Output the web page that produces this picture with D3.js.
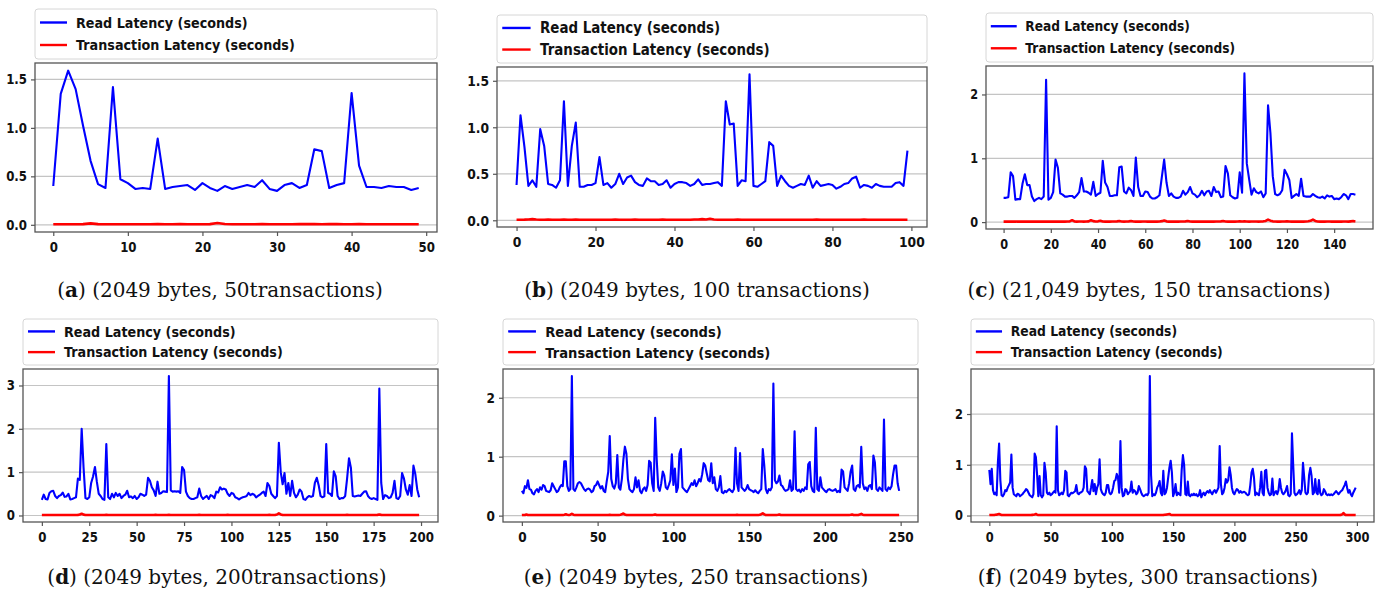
<!DOCTYPE html>
<html>
<head>
<meta charset="utf-8">
<script src="https://cdn.jsdelivr.net/npm/d3@7"></script>
<style>
  body { margin: 0; background: #fff; }
  svg { display: block; }
</style>
</head>
<body>
<div class="figure"></div>
<script>
// ---- data ----
var legendLabels = ["Read Latency (seconds)", "Transaction Latency (seconds)"];
var captionLetters = ["a", "b", "c", "d", "e", "f"];
var captionTexts = [" (2049 bytes, 50transactions)", " (2049 bytes, 100 transactions)", " (21,049 bytes, 150 transactions)",
                    " (2049 bytes, 200transactions)", " (2049 bytes, 250 transactions)", " (2049 bytes, 300 transactions)"];

var xTicksA = [0, 10, 20, 30, 40, 50];
var xTicksB = [0, 20, 40, 60, 80, 100];
var xTicksC = [0, 20, 40, 60, 80, 100, 120, 140];
var xTicksD = [0, 25, 50, 75, 100, 125, 150, 175, 200];
var xTicksE = [0, 50, 100, 150, 200, 250];
var xTicksF = [0, 50, 100, 150, 200, 250, 300];
var yTicksA = [0, 0.5, 1.0, 1.5];
var yTicksB = [0, 0.5, 1.0, 1.5];
var yTicksC = [0, 1, 2];
var yTicksD = [0, 1, 2, 3];
var yTicksE = [0, 1, 2];
var yTicksF = [0, 1, 2];

var readA = [
  0.40,1.35,1.59,1.40,1.02,0.66,0.42,0.38,1.42,0.47,
  0.43,0.37,0.38,0.37,0.89,0.37,0.39,0.40,0.41,0.36,
  0.43,0.38,0.35,0.40,0.37,0.39,0.41,0.39,0.46,0.37,
  0.35,0.41,0.43,0.38,0.41,0.78,0.76,0.38,0.41,0.43,
  1.36,0.61,0.39,0.39,0.38,0.40,0.39,0.39,0.36,0.38];
var txA = [
  0.005,0.006,0.005,0.006,0.007,0.015,0.007,0.006,0.005,0.006,
  0.006,0.005,0.006,0.005,0.007,0.006,0.006,0.008,0.006,0.005,
  0.006,0.007,0.018,0.008,0.006,0.006,0.005,0.006,0.007,0.006,
  0.005,0.006,0.006,0.007,0.008,0.007,0.006,0.008,0.007,0.006,
  0.006,0.007,0.006,0.006,0.005,0.006,0.006,0.005,0.006,0.006];

var readB = [
  0.38,1.13,0.79,0.37,0.43,0.36,0.98,0.80,0.39,0.38,
  0.35,0.43,1.28,0.37,0.80,1.05,0.36,0.36,0.38,0.38,
  0.40,0.68,0.38,0.40,0.35,0.39,0.50,0.39,0.46,0.48,
  0.41,0.38,0.37,0.45,0.42,0.42,0.38,0.39,0.43,0.35,
  0.39,0.41,0.41,0.40,0.37,0.39,0.44,0.38,0.39,0.39,
  0.40,0.41,0.37,1.28,1.03,1.04,0.37,0.43,0.42,1.57,
  0.37,0.36,0.39,0.42,0.84,0.80,0.37,0.48,0.42,0.37,
  0.35,0.37,0.39,0.38,0.48,0.35,0.42,0.37,0.38,0.39,
  0.38,0.34,0.36,0.39,0.40,0.45,0.47,0.35,0.38,0.37,
  0.35,0.39,0.37,0.36,0.36,0.36,0.40,0.41,0.37,0.75];
var txB = [
  0.006,0.006,0.007,0.009,0.012,0.008,0.006,0.006,0.007,0.006,0.006,0.006,0.007,0.006,0.006,0.007,0.006,0.006,0.006,0.006,
  0.006,0.006,0.006,0.006,0.006,0.007,0.006,0.006,0.006,0.006,0.008,0.006,0.006,0.006,0.006,0.006,0.006,0.007,0.006,0.006,
  0.006,0.006,0.006,0.006,0.006,0.008,0.009,0.012,0.008,0.016,0.009,0.006,0.006,0.006,0.006,0.006,0.007,0.006,0.006,0.006,
  0.006,0.006,0.006,0.006,0.006,0.006,0.006,0.006,0.006,0.006,0.006,0.006,0.006,0.006,0.006,0.006,0.009,0.006,0.006,0.006,
  0.006,0.006,0.006,0.006,0.006,0.006,0.006,0.006,0.007,0.006,0.006,0.006,0.006,0.006,0.006,0.006,0.006,0.006,0.006,0.006];

var readC = [
  0.38,0.38,0.39,0.78,0.72,0.35,0.36,0.36,0.60,0.75,
  0.58,0.58,0.40,0.33,0.36,0.38,0.36,0.40,2.23,0.35,
  0.38,0.47,0.98,0.85,0.45,0.43,0.40,0.40,0.41,0.41,
  0.38,0.42,0.47,0.69,0.48,0.48,0.46,0.43,0.63,0.41,
  0.44,0.46,0.96,0.62,0.55,0.41,0.41,0.42,0.42,0.86,
  0.87,0.48,0.45,0.54,0.50,0.41,1.01,0.55,0.41,0.41,
  0.48,0.47,0.40,0.37,0.37,0.39,0.42,0.70,0.98,0.62,
  0.41,0.45,0.40,0.38,0.38,0.40,0.49,0.43,0.47,0.55,
  0.45,0.43,0.39,0.42,0.49,0.42,0.48,0.49,0.41,0.55,
  0.47,0.48,0.39,0.40,0.88,0.76,0.42,0.39,0.37,0.38,
  0.78,0.46,2.33,0.92,0.67,0.43,0.53,0.47,0.45,0.48,
  0.39,0.45,1.83,1.40,0.72,0.44,0.42,0.44,0.50,0.82,
  0.75,0.66,0.38,0.41,0.44,0.41,0.68,0.41,0.40,0.40,
  0.40,0.44,0.41,0.39,0.38,0.40,0.37,0.42,0.40,0.41,
  0.36,0.37,0.36,0.39,0.44,0.42,0.36,0.44,0.44,0.43];
var txC = [
  0.008,0.008,0.009,0.008,0.008,0.008,0.009,0.008,0.008,0.008,0.009,0.008,0.008,0.008,0.008,0.009,0.008,0.008,0.008,0.008,0.009,0.008,0.008,0.010,0.008,
  0.008,0.008,0.009,0.012,0.030,0.010,0.008,0.009,0.010,0.008,0.009,0.012,0.030,0.015,0.009,0.012,0.022,0.010,0.008,0.009,0.008,0.009,0.010,0.012,0.016,
  0.010,0.008,0.009,0.012,0.016,0.010,0.008,0.009,0.008,0.010,0.009,0.008,0.008,0.008,0.009,0.008,0.010,0.015,0.026,0.012,0.008,0.009,0.008,0.009,0.008,
  0.009,0.010,0.012,0.016,0.010,0.008,0.009,0.008,0.008,0.009,0.008,0.008,0.009,0.008,0.008,0.009,0.010,0.012,0.016,0.010,0.008,0.008,0.009,0.008,0.010,
  0.012,0.010,0.011,0.009,0.008,0.009,0.010,0.009,0.008,0.010,0.012,0.018,0.040,0.022,0.012,0.009,0.008,0.008,0.009,0.010,0.012,0.010,0.008,0.009,0.008,
  0.008,0.009,0.008,0.010,0.014,0.020,0.040,0.018,0.010,0.008,0.009,0.008,0.010,0.009,0.008,0.008,0.009,0.008,0.008,0.009,0.010,0.008,0.012,0.016,0.010];

var readD = [
  0.36,0.48,0.38,0.37,0.52,0.56,0.57,0.45,0.40,0.45,
  0.47,0.53,0.43,0.44,0.50,0.37,0.38,0.40,0.42,0.85,
  0.82,2.00,1.10,0.40,0.38,0.42,0.75,0.90,1.12,0.78,
  0.50,0.45,0.38,0.36,1.65,0.42,0.38,0.50,0.42,0.52,
  0.45,0.50,0.40,0.45,0.48,0.57,0.42,0.44,0.40,0.45,
  0.38,0.42,0.50,0.48,0.45,0.48,0.87,0.80,0.65,0.58,
  0.45,0.78,0.50,0.52,0.56,0.55,0.54,3.22,0.58,0.55,
  0.56,0.55,0.56,0.52,1.12,1.05,0.55,0.45,0.40,0.38,
  0.38,0.40,0.42,0.62,0.45,0.38,0.42,0.45,0.38,0.47,
  0.45,0.40,0.55,0.53,0.65,0.60,0.62,0.60,0.50,0.45,
  0.52,0.50,0.42,0.40,0.37,0.40,0.42,0.43,0.45,0.52,
  0.47,0.50,0.48,0.42,0.45,0.48,0.52,0.55,0.45,0.75,
  0.68,0.50,0.45,0.40,0.45,1.68,1.00,0.72,0.98,0.50,
  0.75,0.45,0.80,0.52,0.42,0.48,0.60,0.55,0.38,0.36,
  0.42,0.45,0.43,0.45,0.75,0.87,0.70,0.45,0.42,0.44,
  1.65,0.52,0.50,0.45,1.02,0.90,0.45,0.38,0.40,0.40,
  0.45,0.85,1.32,1.10,0.45,0.44,0.45,0.46,0.45,0.50,
  0.55,0.56,0.45,0.40,0.38,0.40,0.38,0.36,2.93,0.75,
  0.38,0.47,0.45,0.40,0.42,0.52,0.80,0.40,0.38,0.45,
  0.98,0.85,0.60,0.48,0.70,0.45,1.15,0.95,0.60,0.42];
var txD = [
  0.010,0.010,0.011,0.010,0.010,0.012,0.010,0.010,0.011,0.010,0.010,0.012,0.010,0.010,0.011,0.010,0.010,0.012,0.011,0.014,0.022,0.040,0.020,0.012,0.010,
  0.010,0.011,0.012,0.010,0.010,0.011,0.010,0.010,0.012,0.014,0.011,0.010,0.010,0.011,0.010,0.012,0.010,0.010,0.011,0.010,0.012,0.010,0.010,0.011,0.010,
  0.010,0.011,0.010,0.012,0.010,0.010,0.011,0.012,0.010,0.010,0.013,0.011,0.010,0.010,0.011,0.010,0.012,0.014,0.011,0.010,0.010,0.011,0.010,0.010,0.012,
  0.010,0.010,0.011,0.010,0.010,0.012,0.010,0.010,0.016,0.011,0.010,0.010,0.011,0.010,0.010,0.012,0.010,0.010,0.011,0.010,0.010,0.012,0.010,0.013,0.010,
  0.010,0.011,0.010,0.010,0.012,0.010,0.010,0.011,0.010,0.010,0.012,0.010,0.010,0.011,0.010,0.010,0.012,0.010,0.010,0.011,0.014,0.012,0.010,0.012,0.022,
  0.050,0.024,0.012,0.010,0.011,0.010,0.012,0.010,0.010,0.011,0.010,0.010,0.012,0.010,0.010,0.011,0.010,0.010,0.012,0.010,0.010,0.011,0.010,0.010,0.012,
  0.010,0.010,0.011,0.010,0.010,0.012,0.010,0.010,0.011,0.010,0.010,0.014,0.012,0.010,0.011,0.010,0.010,0.012,0.010,0.010,0.011,0.010,0.010,0.012,0.010,
  0.010,0.011,0.014,0.022,0.014,0.010,0.010,0.011,0.010,0.010,0.012,0.010,0.010,0.011,0.010,0.010,0.012,0.010,0.010,0.011,0.010,0.010,0.012,0.010,0.010];

var readE = [
  0.42,0.38,0.50,0.47,0.60,0.45,0.44,0.38,0.36,0.42,
  0.45,0.40,0.48,0.44,0.52,0.50,0.42,0.41,0.40,0.43,
  0.55,0.50,0.45,0.40,0.42,0.48,0.52,0.50,0.92,0.92,
  0.50,0.42,0.45,2.37,0.45,0.42,0.48,0.55,0.57,0.55,
  0.50,0.45,0.42,0.45,0.46,0.44,0.40,0.42,0.50,0.52,
  0.58,0.52,0.46,0.50,0.42,0.40,0.58,0.74,1.35,0.62,
  0.50,0.46,0.55,1.03,0.48,0.44,0.62,0.95,1.17,1.05,
  0.62,0.45,0.42,0.40,0.45,0.65,0.48,0.60,0.42,0.38,
  0.45,0.48,0.42,0.52,0.93,0.90,0.55,0.42,1.66,0.95,
  0.48,0.42,0.55,0.75,0.68,0.48,0.45,0.52,0.60,1.04,
  0.52,0.80,0.40,0.48,1.05,1.13,0.48,0.45,0.42,0.40,
  0.45,0.50,0.55,0.52,0.60,0.50,0.55,0.62,0.58,0.70,
  0.89,0.85,0.72,0.60,0.58,0.89,0.55,0.65,0.45,0.42,
  0.48,0.67,0.40,0.38,0.42,0.40,0.43,0.45,0.42,0.40,
  0.45,1.15,0.55,0.42,1.06,0.48,0.45,0.42,0.45,0.52,
  0.45,0.43,0.42,0.40,0.43,0.40,0.38,0.42,0.45,1.13,
  0.85,0.45,0.38,0.45,0.43,0.48,2.24,0.60,0.55,0.58,
  0.68,0.52,0.50,0.45,0.42,0.43,0.45,0.60,0.42,0.45,
  1.43,0.45,0.42,0.44,0.40,0.45,0.42,0.48,0.45,0.87,
  0.91,0.50,0.42,0.40,1.49,0.45,0.42,0.65,0.48,0.45,
  0.42,0.40,0.44,0.45,0.43,0.42,0.43,0.45,0.40,0.42,
  0.40,0.78,0.75,0.48,0.45,0.42,0.55,0.75,0.85,0.45,
  0.42,0.50,0.52,0.48,1.17,0.55,0.45,0.48,0.42,0.50,
  0.52,0.45,1.02,0.90,0.45,0.42,0.48,0.45,0.42,1.63,
  0.45,0.42,0.48,0.45,0.50,0.70,0.85,0.85,0.55,0.42];
var txE = [
  0.010,0.012,0.010,0.020,0.012,0.010,0.011,0.010,0.010,0.012,0.010,0.011,0.010,0.010,0.012,0.010,0.010,0.011,0.010,0.012,0.010,0.010,0.011,0.010,0.010,
  0.012,0.010,0.011,0.016,0.022,0.014,0.012,0.016,0.032,0.016,0.010,0.011,0.010,0.012,0.010,0.010,0.011,0.010,0.012,0.010,0.010,0.011,0.010,0.010,0.012,
  0.010,0.011,0.010,0.010,0.012,0.010,0.011,0.012,0.016,0.012,0.010,0.011,0.010,0.010,0.012,0.016,0.022,0.036,0.018,0.012,0.010,0.011,0.010,0.012,0.010,
  0.010,0.011,0.010,0.012,0.010,0.010,0.011,0.010,0.010,0.012,0.010,0.011,0.014,0.020,0.012,0.010,0.011,0.010,0.012,0.010,0.010,0.011,0.010,0.010,0.012,
  0.010,0.011,0.010,0.010,0.012,0.010,0.011,0.010,0.012,0.010,0.010,0.011,0.010,0.010,0.012,0.010,0.011,0.010,0.010,0.012,0.010,0.011,0.010,0.010,0.012,
  0.010,0.011,0.010,0.012,0.010,0.010,0.011,0.010,0.010,0.012,0.010,0.011,0.010,0.010,0.012,0.010,0.011,0.014,0.010,0.010,0.012,0.010,0.011,0.010,0.010,
  0.012,0.010,0.011,0.010,0.012,0.010,0.010,0.014,0.024,0.040,0.022,0.012,0.010,0.011,0.010,0.012,0.010,0.010,0.011,0.014,0.020,0.012,0.010,0.011,0.010,
  0.010,0.012,0.010,0.011,0.010,0.010,0.012,0.010,0.011,0.010,0.010,0.012,0.010,0.011,0.010,0.010,0.012,0.010,0.011,0.010,0.010,0.012,0.010,0.011,0.010,
  0.010,0.012,0.010,0.011,0.010,0.010,0.012,0.010,0.011,0.010,0.010,0.012,0.010,0.011,0.010,0.010,0.012,0.014,0.020,0.012,0.010,0.011,0.012,0.018,0.030,
  0.016,0.011,0.010,0.010,0.012,0.010,0.011,0.010,0.010,0.012,0.010,0.011,0.010,0.010,0.012,0.010,0.011,0.010,0.010,0.012,0.010,0.011,0.010,0.010,0.010];

var readF = [
  0.90,0.62,0.92,0.50,0.42,0.45,0.40,1.05,1.42,0.70,
  0.40,0.38,0.42,0.50,0.48,0.55,0.60,0.65,1.20,0.55,
  0.42,0.40,0.38,0.43,0.42,0.38,0.40,0.42,0.45,0.48,
  0.52,0.50,0.45,0.40,0.38,0.36,0.42,1.22,1.15,0.80,
  0.38,0.78,0.40,0.36,0.40,1.04,0.85,0.45,0.42,0.45,
  0.40,0.42,0.45,0.48,0.45,1.76,0.50,0.40,0.42,0.45,
  0.42,0.50,0.88,0.85,0.40,0.38,0.42,0.45,0.44,0.46,
  0.48,0.60,0.44,0.42,0.45,0.46,0.48,0.55,0.97,0.92,
  0.48,0.45,0.42,0.55,0.70,0.48,0.62,0.42,0.55,0.62,
  1.11,0.52,0.45,0.42,0.40,0.45,0.60,0.60,0.45,0.42,
  0.45,0.55,0.68,0.70,0.82,0.75,0.45,1.47,0.55,0.38,
  0.40,0.52,0.50,0.42,0.45,0.48,0.67,0.45,0.50,0.48,
  0.42,0.45,0.58,0.52,0.45,0.40,0.38,0.40,0.42,0.40,
  0.45,2.75,0.80,0.38,0.42,0.40,0.45,0.55,0.60,0.68,
  0.45,0.40,0.88,0.42,0.45,0.55,0.75,0.95,1.08,0.85,
  0.38,0.45,0.62,0.40,0.45,0.42,0.40,0.90,1.19,1.00,
  0.42,0.40,0.67,0.40,0.38,0.42,0.40,0.43,0.40,0.42,
  0.38,0.40,0.50,0.36,0.42,0.45,0.40,0.45,0.48,0.45,
  0.50,0.45,0.42,0.48,0.50,0.45,0.50,0.55,1.37,0.62,
  0.42,0.45,0.55,0.72,0.65,0.70,0.95,0.80,0.55,0.45,
  0.42,0.48,0.52,0.50,0.45,0.48,0.45,0.46,0.47,0.45,
  0.42,0.40,0.42,0.60,0.85,0.92,0.75,0.40,0.45,0.42,
  0.40,0.55,0.86,0.45,0.40,0.88,0.90,0.55,0.45,0.40,
  0.42,0.73,0.40,0.45,0.48,0.42,0.50,0.72,0.55,0.45,
  0.42,0.45,0.50,0.58,0.40,0.38,0.42,1.62,1.00,0.45,
  0.40,0.42,0.45,0.50,0.42,0.50,1.04,0.75,0.45,0.42,
  0.45,0.80,0.94,0.78,0.42,0.45,0.72,0.45,0.42,0.70,
  0.45,0.40,0.42,0.52,0.48,0.42,0.40,0.42,0.40,0.42,
  0.40,0.42,0.45,0.48,0.45,0.42,0.45,0.48,0.50,0.55,
  0.60,0.67,0.55,0.45,0.50,0.42,0.38,0.45,0.50,0.55];
var txF = [
  0.010,0.012,0.010,0.011,0.010,0.014,0.018,0.024,0.030,0.020,0.012,0.010,0.011,0.010,0.012,0.010,0.010,0.011,0.010,0.012,0.010,0.010,0.011,0.010,0.010,
  0.012,0.010,0.011,0.010,0.010,0.012,0.010,0.011,0.010,0.012,0.014,0.016,0.022,0.030,0.018,0.012,0.010,0.011,0.010,0.012,0.010,0.011,0.010,0.010,0.012,
  0.010,0.011,0.010,0.012,0.010,0.010,0.011,0.010,0.012,0.010,0.010,0.011,0.010,0.010,0.012,0.010,0.011,0.010,0.010,0.012,0.010,0.011,0.010,0.012,0.010,
  0.010,0.011,0.010,0.012,0.010,0.010,0.011,0.010,0.012,0.010,0.010,0.011,0.010,0.010,0.012,0.010,0.011,0.010,0.010,0.012,0.010,0.011,0.010,0.012,0.010,
  0.010,0.011,0.010,0.012,0.010,0.010,0.011,0.010,0.012,0.010,0.010,0.011,0.010,0.010,0.012,0.010,0.011,0.010,0.010,0.012,0.010,0.011,0.010,0.012,0.010,
  0.010,0.011,0.010,0.012,0.010,0.010,0.011,0.010,0.012,0.010,0.010,0.011,0.010,0.010,0.012,0.010,0.011,0.010,0.016,0.018,0.022,0.026,0.030,0.018,0.012,
  0.010,0.011,0.010,0.012,0.010,0.010,0.011,0.010,0.012,0.010,0.010,0.011,0.010,0.010,0.012,0.010,0.011,0.010,0.010,0.012,0.010,0.011,0.010,0.012,0.010,
  0.010,0.011,0.010,0.012,0.010,0.010,0.011,0.010,0.012,0.010,0.010,0.011,0.010,0.010,0.012,0.010,0.011,0.010,0.010,0.012,0.010,0.011,0.010,0.012,0.010,
  0.010,0.011,0.010,0.012,0.010,0.010,0.011,0.010,0.012,0.010,0.010,0.011,0.010,0.010,0.012,0.010,0.011,0.010,0.010,0.012,0.010,0.011,0.010,0.012,0.010,
  0.010,0.011,0.010,0.012,0.010,0.010,0.011,0.010,0.012,0.010,0.010,0.011,0.010,0.010,0.012,0.010,0.011,0.010,0.010,0.012,0.010,0.011,0.010,0.012,0.010,
  0.010,0.011,0.010,0.012,0.010,0.010,0.011,0.010,0.012,0.010,0.010,0.011,0.010,0.010,0.012,0.010,0.011,0.010,0.010,0.012,0.010,0.011,0.010,0.012,0.010,
  0.010,0.011,0.010,0.012,0.010,0.010,0.011,0.010,0.012,0.010,0.010,0.011,0.014,0.024,0.050,0.022,0.012,0.010,0.011,0.010,0.012,0.010,0.010,0.011,0.010];

var panels = [
  {read: readA, tx: txA, xTicks: xTicksA, yTicks: yTicksA, yFmt: ".1f", s: 1.00,
   box: {x0: 35, x1: 437, y0: 63, y1: 232}, leg: {y0: 9, y1: 59}, cap: {x: 220, y: 297}},
  {read: readB, tx: txB, xTicks: xTicksB, yTicks: yTicksB, yFmt: ".1f", s: 1.05,
   box: {x0: 497, x1: 927, y0: 67, y1: 227}, leg: {y0: 15, y1: 63}, cap: {x: 697, y: 297}},
  {read: readC, tx: txC, xTicks: xTicksC, yTicks: yTicksC, yFmt: "d", s: 0.96,
   box: {x0: 986, x1: 1373, y0: 66, y1: 229}, leg: {y0: 13, y1: 62}, cap: {x: 1149, y: 297}},
  {read: readD, tx: txD, xTicks: xTicksD, yTicks: yTicksD, yFmt: "d", s: 1.00,
   box: {x0: 23, x1: 438, y0: 369, y1: 522}, leg: {y0: 319, y1: 365}, cap: {x: 217, y: 584}},
  {read: readE, tx: txE, xTicks: xTicksE, yTicks: yTicksE, yFmt: "d", s: 1.03,
   box: {x0: 503, x1: 918, y0: 369, y1: 522}, leg: {y0: 319, y1: 365}, cap: {x: 696, y: 584}},
  {read: readF, tx: txF, xTicks: xTicksF, yTicks: yTicksF, yFmt: "d", s: 0.97,
   box: {x0: 971, x1: 1374, y0: 369, y1: 522}, leg: {y0: 319, y1: 365}, cap: {x: 1148, y: 584}}
];

var colors = ["#0000ff", "#ff0000"];
var sansBold = "'DejaVu Sans', 'Liberation Sans', sans-serif";

var svg = d3.select(".figure")
            .append("svg")
            .attr("width", 1384)
            .attr("height", 594)
            .style("background", "#fff");

panels.forEach(function(p, i) { drawPanel(p, i); });

// the source figure is a little taller than wide, so squeeze the glyphs horizontally
function squeeze(sel, k) {
    sel.each(function() {
        var L = this.getComputedTextLength();
        d3.select(this).attr("textLength", L * k).attr("lengthAdjust", "spacingAndGlyphs");
    });
}

function drawPanel(p, i)
{
    var n = p.read.length;
    var pad = 0.05 * (n - 1);   // matplotlib style margins
    var xScale = d3.scaleLinear()
                   .domain([-pad, n - 1 + pad])
                   .range([p.box.x0, p.box.x1]);

    var lo = Math.min(d3.min(p.read), d3.min(p.tx));
    var hi = Math.max(d3.max(p.read), d3.max(p.tx));
    var m = 0.05 * (hi - lo);
    var yScale = d3.scaleLinear()
                   .domain([lo - m, hi + m])
                   .range([p.box.y1, p.box.y0]);

    var g = svg.append("g").attr("class", "panel panel-" + captionLetters[i]);

    // horizontal grid
    g.selectAll(".grid")
      .data(p.yTicks)
      .enter()
      .append("line")
      .attr("class", "grid")
      .attr("x1", p.box.x0)
      .attr("x2", p.box.x1)
      .attr("y1", d => yScale(d))
      .attr("y2", d => yScale(d))
      .attr("stroke", "#c4c4c4")
      .attr("stroke-width", 1.2);

    var line = d3.line()
                 .x(function(d, j) { return xScale(j); })
                 .y(function(d) { return yScale(d); });

    g.append("path")
      .datum(p.read)
      .attr("fill", "none")
      .attr("stroke", colors[0])
      .attr("stroke-width", 2.1)
      .attr("stroke-linejoin", "round")
      .attr("d", line);

    g.append("path")
      .datum(p.tx)
      .attr("fill", "none")
      .attr("stroke", colors[1])
      .attr("stroke-width", 2.6)
      .attr("stroke-linejoin", "round")
      .attr("d", line);

    // frame
    g.append("rect")
      .attr("x", p.box.x0)
      .attr("y", p.box.y0)
      .attr("width", p.box.x1 - p.box.x0)
      .attr("height", p.box.y1 - p.box.y0)
      .attr("fill", "none")
      .attr("stroke", "#555")
      .attr("stroke-width", 1.3);

    var tickFont = 14 * p.s;
    var xAxis = d3.axisBottom(xScale).tickValues(p.xTicks).tickFormat(d3.format("d"))
                  .tickSize(4).tickPadding(6).tickSizeOuter(0);
    var yAxis = d3.axisLeft(yScale).tickValues(p.yTicks).tickFormat(d3.format(p.yFmt))
                  .tickSize(4).tickPadding(4).tickSizeOuter(0);

    g.append("g")
      .attr("transform", `translate(0,${p.box.y1})`)
      .call(xAxis)
      .call(styleAxis);
    g.append("g")
      .attr("transform", `translate(${p.box.x0},0)`)
      .call(yAxis)
      .call(styleAxis);

    function styleAxis(a) {
        a.select(".domain").remove();
        a.selectAll("line").attr("stroke", "#555").attr("stroke-width", 1.2);
        a.selectAll("text")
          .attr("fill", "#111")
          .style("font-family", sansBold)
          .style("font-weight", "bold")
          .style("font-size", tickFont + "px")
          .call(squeeze, 0.84);
    }

    // legend (spans the full axes width)
    var lh = p.leg.y1 - p.leg.y0;
    var legend = g.append("g").attr("class", "gLegend");
    legend.append("rect")
      .attr("x", p.box.x0)
      .attr("y", p.leg.y0)
      .attr("width", p.box.x1 - p.box.x0)
      .attr("height", lh)
      .attr("rx", 3)
      .attr("fill", "#fff")
      .attr("stroke", "#d6d6d6");

    var rows = legend.selectAll(".legend")
      .data(legendLabels)
      .enter().append("g")
      .attr("class", "legend")
      .attr("transform", function(d, k) {
          return "translate(" + p.box.x0 + "," + (p.leg.y0 + lh * (k === 0 ? 0.27 : 0.72)) + ")";
      });

    rows.append("line")
      .attr("x1", 5 * p.s)
      .attr("x2", 32 * p.s)
      .attr("stroke", (d, k) => colors[k])
      .attr("stroke-width", 2.4);

    rows.append("text")
      .attr("x", 41 * p.s)
      .attr("dy", "0.36em")
      .attr("fill", "#111")
      .style("font-family", sansBold)
      .style("font-weight", "bold")
      .style("font-size", (14.5 * p.s) + "px")
      .text(d => d)
      .call(squeeze, 0.88);

    // caption
    var cap = svg.append("text")
      .attr("x", p.cap.x)
      .attr("y", p.cap.y)
      .attr("text-anchor", "middle")
      .attr("fill", "#111")
      .style("font-family", "'DejaVu Serif', 'Liberation Serif', serif")
      .style("font-size", "20px");
    cap.append("tspan").text("(");
    cap.append("tspan").style("font-weight", "bold").text(captionLetters[i]);
    cap.append("tspan").text(")" + captionTexts[i]);
}
</script>
</body>
</html>
